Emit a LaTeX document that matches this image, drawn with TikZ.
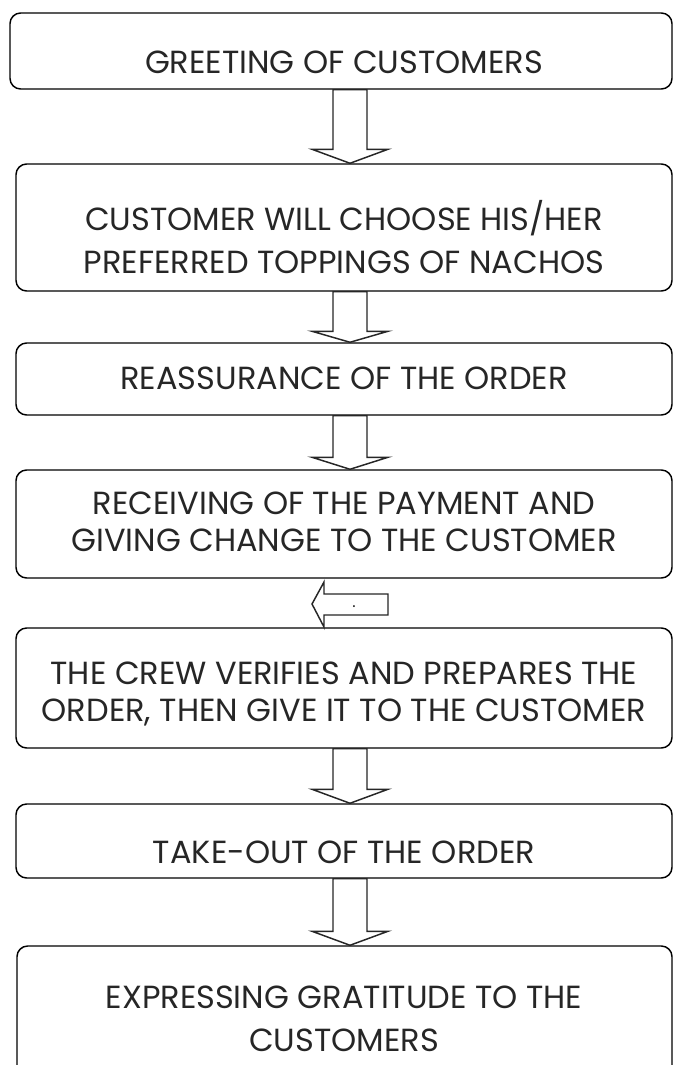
\documentclass[tikz,border=0pt]{standalone}
\usepackage{fontspec}
\setmainfont{Poppins}
\usetikzlibrary{calc,fit}
\newcommand{\downblk}[3]{% from node, to node, head length (px)
  \draw[blockarr] (333,0 |- #1.south) -- (367,0 |- #1.south)
    -- ($(367,0 |- #2.north)+(0,-#3)$) -- ($(388,0 |- #2.north)+(0,-#3)$)
    -- (350,0 |- #2.north)
    -- ($(312,0 |- #2.north)+(0,-#3)$) -- ($(333,0 |- #2.north)+(0,-#3)$) -- cycle;}
\begin{document}
\begin{tikzpicture}[x=0.75pt,y=-0.75pt,
  box/.style={draw=black, line width=1.1pt, rounded corners=8pt, inner sep=0pt},
  txt/.style={text=black!85, align=center, inner sep=0pt},
  blockarr/.style={draw=black!85, line width=1.1pt, fill=white, line join=miter}]
\useasboundingbox (0,0) rectangle (674,1065);
\clip (0,0) rectangle (674,1065);

\node[box, fit={(10,13) (672,89)}] (b1) {};
\node[box, fit={(16,164) (672,291)}] (b2) {};
\node[box, fit={(16,343) (672,415)}] (b3) {};
\node[box, fit={(16,470) (672,578)}] (b4) {};
\node[box, fit={(16,628) (672,748)}] (b5) {};
\node[box, fit={(16,804) (672,878)}] (b6) {};
\node[box, fit={(17,946) (672,1110)}] (b7) {};

\node[txt, font=\fontsize{24}{32.6}\selectfont] (t1) at (344,62) {GREETING OF CUSTOMERS};
\node[txt, font=\fontsize{24}{32.6}\selectfont] (t2) at (344,237) {CUSTOMER WILL CHOOSE HIS/HER\\PREFERRED TOPPINGS OF NACHOS};
\node[txt, font=\fontsize{24}{32.6}\selectfont] (t3) at (344,378) {REASSURANCE OF THE ORDER};
\node[txt, font=\fontsize{24}{27.75}\selectfont] (t4) at (344,522) {RECEIVING OF THE PAYMENT AND\\GIVING CHANGE TO THE CUSTOMER};
\node[txt, font=\fontsize{24}{27.4}\selectfont] (t5) at (344,694) {THE CREW VERIFIES AND PREPARES THE\\ORDER, THEN GIVE IT TO THE CUSTOMER};
\node[txt, font=\fontsize{24}{32.6}\selectfont] (t6) at (344,852) {TAKE-OUT OF THE ORDER};
\node[txt, font=\fontsize{24}{32.25}\selectfont] (t7) at (344,1018.5) {EXPRESSING GRATITUDE TO THE\\CUSTOMERS};

\downblk{b1}{b2}{14}
\downblk{b2}{b3}{11}
\downblk{b3}{b4}{12}
\downblk{b5}{b6}{14}
\downblk{b6}{b7}{14}

\coordinate (m45) at ($(b4.south)!0.5!(b5.north)$);
\draw[blockarr] ($(m45)+(44,-9)$) -- ($(m45)+(-20,-9)$) -- ($(m45)+(-20,-21)$)
  -- ($(m45)+(-32,1)$) -- ($(m45)+(-20,24)$) -- ($(m45)+(-20,12)$)
  -- ($(m45)+(44,12)$) -- cycle;
\node[txt, font=\fontsize{12}{12}\selectfont, anchor=base] (dot) at ($(m45)+(10,4)$) {.};
\end{tikzpicture}
\end{document}
